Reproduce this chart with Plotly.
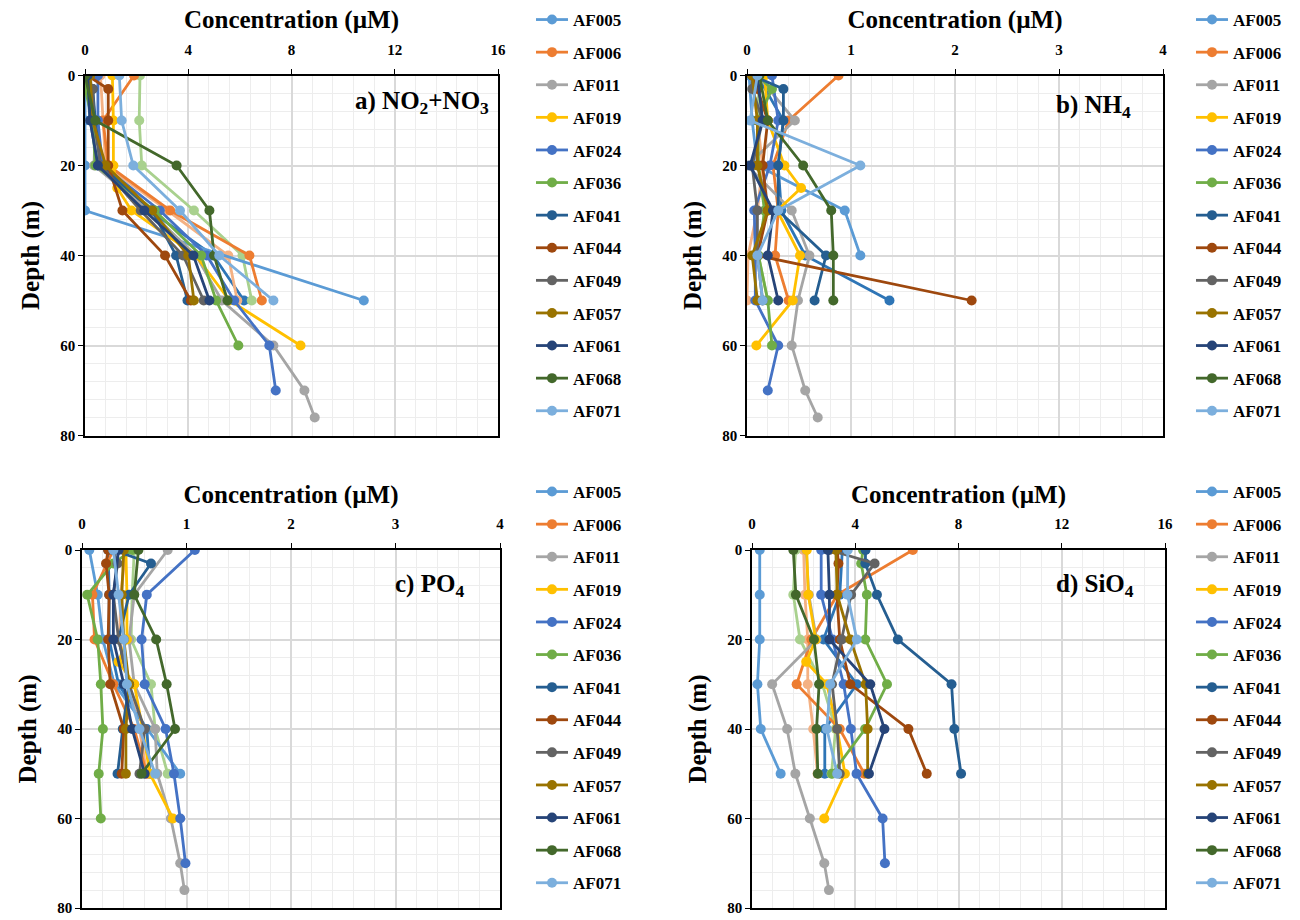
import plotly.graph_objects as go

# ---------------- data ----------------
SERIES = ["AF005", "AF006", "AF011", "AF019", "AF024", "AF036", "AF041",
          "AF044", "AF049", "AF057", "AF061", "AF068", "AF071"]
EXTRA = ["extra_1", "extra_2", "extra_3"]   # plotted, not listed in legend

COLORS = ["#5B9BD5", "#ED7D31", "#A5A5A5", "#FFC000", "#4472C4", "#70AD47", "#255E91",
          "#9E480E", "#636363", "#997300", "#264478", "#43682B", "#7CAFDD"]
EXTRA_COLORS = ["#2E75B6", "#F4B183", "#A9D18E"]

D6 = [0, 10, 20, 30, 40, 50]
D7 = [0, 3, 10, 20, 30, 40, 50]
D_AF011 = [0, 10, 20, 30, 40, 50, 60, 70, 76]
D_AF019 = [0, 10, 20, 25, 30, 40, 50, 60]
D_AF024 = [0, 10, 20, 30, 40, 50, 60, 70]
D_AF036 = [0, 3, 10, 20, 30, 40, 50, 60]

DEPTHS = [D6, D6, D_AF011, D_AF019, D_AF024, D_AF036, D7, D7, D7, D6, D6, D6, D6,
          D6, D6, D6]

NO3 = [
    [0.0, 0.0, 0.0, 0.0, None, 10.8],
    [1.9, 0.7, 0.9, 3.3, 6.37, 6.85],
    [0.2, 0.4, 0.35, 2.48, 4.3, 5.3, 7.3, 8.5, 8.9],
    [1.06, 1.1, 1.1, 1.25, 1.8, 4.29, 5.6, 8.35],
    [0.5, 0.5, 0.68, 2.9, 4.72, 5.78, 7.14, 7.39],
    [0.05, 0.0, 0.3, 0.4, 2.7, 4.5, 5.08, 5.94],
    [0.05, 0.3, 0.4, 0.6, 2.6, 3.53, 3.97],
    [0.1, 0.9, 0.9, 0.9, 1.45, 3.1, 4.1],
    [0.1, 0.3, 0.35, 0.6, 2.16, 3.8, 4.6],
    [0.2, 0.3, 0.8, 2.6, 4.0, 4.22],
    [0.1, 0.2, 0.5, 2.3, 4.2, 4.82],
    [0.0, 0.4, 3.55, 4.82, 5.0, 5.52],
    [1.33, 1.42, 1.87, 3.68, 5.2, 7.3],
    [0.05, 0.2, 0.5, 2.5, 4.97, 6.16],
    [0.6, 0.7, 0.8, 3.2, 5.55, 5.9],
    [2.13, 2.1, 2.2, 4.22, 6.1, 6.46],
]

NH4 = [
    [0.02, 0.05, 0.1, 0.94, 1.09, None],
    [0.88, 0.4, 0.25, 0.3, 0.27, 0.4],
    [0.1, 0.46, 0.0, 0.43, 0.6, 0.49, 0.43, 0.56, 0.68],
    [0.17, 0.2, 0.36, 0.52, 0.29, 0.51, 0.44, 0.09],
    [0.24, 0.3, 0.22, 0.07, 0.08, 0.08, 0.3, 0.2],
    [0.1, 0.24, 0.1, 0.11, 0.17, 0.11, 0.2, 0.24],
    [0.05, 0.35, 0.35, 0.3, 0.3, 0.76, 0.65],
    [0.05, 0.1, 0.2, 0.15, 0.2, 0.1, 2.16],
    [0.05, 0.05, 0.15, 0.05, 0.1, 0.1, 0.15],
    [0.05, 0.1, 0.1, 0.2, 0.05, 0.1],
    [0.1, 0.15, 0.03, 0.25, 0.2, 0.3],
    [0.12, 0.2, 0.54, 0.81, 0.83, 0.83],
    [0.1, 0.03, 1.09, 0.3, 0.1, 0.15],
    [0.1, 0.35, 0.3, 0.33, 0.56, 1.37],
    [0.05, 0.1, 0.15, 0.1, 0.01, 0.0],
    [0.12, 0.1, 0.11, 0.17, 0.11, 0.2],
]

PO4 = [
    [0.07, 0.15, 0.2, 0.31, None, 0.94],
    [0.3, 0.1, 0.12, 0.3, 0.5, 0.62],
    [0.82, 0.5, 0.45, 0.5, 0.7, 0.72, 0.85, 0.94, 0.98],
    [0.42, 0.43, 0.43, 0.35, 0.5, 0.58, 0.65, 0.87],
    [1.08, 0.62, 0.57, 0.6, 0.8, 0.88, 0.94, 0.99],
    [0.48, 0.3, 0.05, 0.15, 0.18, 0.2, 0.16, 0.18],
    [0.3, 0.66, 0.45, 0.35, 0.45, 0.39, 0.34],
    [0.25, 0.23, 0.26, 0.25, 0.27, 0.4, 0.38],
    [0.3, 0.34, 0.3, 0.35, 0.45, 0.6, 0.55],
    [0.4, 0.38, 0.4, 0.45, 0.42, 0.42],
    [0.35, 0.3, 0.3, 0.4, 0.48, 0.6],
    [0.54, 0.5, 0.71, 0.81, 0.89, 0.57],
    [0.3, 0.35, 0.4, 0.43, 0.55, 0.7],
    [0.25, 0.26, 0.26, 0.35, 0.62, 0.65],
    [0.42, 0.37, 0.36, 0.45, 0.55, 0.62],
    [0.5, 0.48, 0.47, 0.66, 0.7, 0.82],
]

SIO4 = [
    [0.3, 0.3, 0.3, 0.21, 0.34, 1.11],
    [6.23, 3.3, 2.3, 1.73, 3.4, 4.35],
    [2.1, 2.2, 2.5, 0.78, 1.36, 1.68, 2.24, 2.8, 2.98],
    [2.12, 2.18, 2.47, 2.1, 2.9, 3.3, 3.6, 2.8],
    [2.68, 2.68, 3.12, 3.55, 3.83, 4.05, 5.06, 5.15],
    [4.3, 4.23, 4.45, 4.39, 5.23, 4.38, 3.1, None],
    [4.4, 4.39, 4.84, 5.65, 7.73, 7.84, 8.1],
    [3.3, 3.35, 3.29, 3.4, 3.81, 6.06, 6.77],
    [3.0, 4.75, 3.84, 3.48, 3.1, 3.3, 3.4],
    [3.25, 3.3, 3.81, 4.4, 4.48, 4.48],
    [2.94, 3.0, 3.0, 4.58, 5.13, 4.53],
    [1.6, 1.7, 2.4, 2.6, 2.5, 2.55],
    [3.71, 3.7, 4.06, 3.03, 2.9, 3.3],
    [3.5, 3.4, 2.77, 4.06, 2.82, 2.82],
    [2.0, 2.05, 2.16, 2.16, 2.37, 2.54],
    [1.69, 1.6, 1.86, 2.73, 3.24, 3.08],
]

PANEL_LABELS = ["a) NO<sub>2</sub>+NO<sub>3</sub>", "b) NH<sub>4</sub>",
                "c) PO<sub>4</sub>", "d) SiO<sub>4</sub>"]
X_MAX = [16, 4, 4, 16]
X_DTICK = [4, 1, 1, 4]
X_TITLE = "Concentration (µM)"
Y_TITLE = "Depth (m)"

# ---------------- figure ----------------
W, H = 1300, 920
SERIF = "Liberation Serif, Times New Roman, serif"

ALL_NAMES = SERIES + EXTRA
ALL_COLORS = COLORS + EXTRA_COLORS
DATASETS = [NO3, NH4, PO4, SIO4]

# plot-area boxes in pixels: (left, right, top, bottom)
BOXES = [(85, 498, 75.5, 435.5), (747, 1163, 75.5, 435.5),
         (82, 500, 550, 908), (752, 1165, 550, 908)]
LEGEND_POS = [(531, 2), (1191, 2), (531, 474), (1191, 474)]
LABEL_POS = [(491, 103), (1133, 106), (466, 585), (1136, 585)]

fig = go.Figure()
# draw the unlisted series first, then the legend series on top
order = list(range(13, 16)) + list(range(13))
for p, data in enumerate(DATASETS):
    ax = "" if p == 0 else str(p + 1)
    leg = "legend" if p == 0 else f"legend{p + 1}"
    for i in order:
        fig.add_trace(go.Scatter(
            x=data[i], y=DEPTHS[i], mode="lines+markers", name=ALL_NAMES[i],
            line=dict(color=ALL_COLORS[i], width=2.8),
            marker=dict(color=ALL_COLORS[i], size=10),
            connectgaps=True, xaxis="x" + ax, yaxis="y" + ax,
            legend=leg, legendgroup=f"{p}_{ALL_NAMES[i]}",
            legendrank=i, showlegend=i < 13,
        ))

layout = dict(width=W, height=H, margin=dict(l=0, r=0, t=0, b=0, autoexpand=False),
              paper_bgcolor="white", plot_bgcolor="white",
              font=dict(family=SERIF, color="black"))

tickfont = dict(family=SERIF, size=15, color="black", weight="bold")
titlefont = dict(family=SERIF, size=25, color="black", weight="bold")

for p in range(4):
    ax = "" if p == 0 else str(p + 1)
    l, r, t, b = BOXES[p]
    layout["xaxis" + ax] = dict(
        domain=[l / W, r / W], anchor="y" + ax, side="top", automargin=False,
        range=[0, X_MAX[p]], dtick=X_DTICK[p], tick0=0,
        showgrid=True, gridcolor="#D9D9D9", gridwidth=1.5,
        minor=dict(dtick=X_DTICK[p] / 5, showgrid=True, gridcolor="#EDEDED", gridwidth=1.3),
        showline=True, linecolor="black", linewidth=1.5, mirror=True,
        ticks="outside", ticklen=5, tickcolor="black", zeroline=False,
        ticklabelstandoff=8,
        tickfont=tickfont, title=dict(text=X_TITLE, font=titlefont, standoff=6),
    )
    layout["yaxis" + ax] = dict(
        domain=[1 - b / H, 1 - t / H], anchor="x" + ax, automargin=False,
        range=[80, 0], dtick=20, tick0=0,
        showgrid=True, gridcolor="#D9D9D9", gridwidth=1.5,
        minor=dict(dtick=4, showgrid=True, gridcolor="#EDEDED", gridwidth=1.3),
        showline=True, linecolor="black", linewidth=1.5, mirror=True,
        ticks="outside", ticklen=5, tickcolor="black", zeroline=False,
        tickfont=tickfont, title=dict(text=Y_TITLE, font=titlefont, standoff=14),
    )
    lx, ly = LEGEND_POS[p]
    layout["legend" if p == 0 else f"legend{p + 1}"] = dict(
        x=lx / W, y=1 - ly / H, xanchor="left", yanchor="top",
        font=dict(family=SERIF, size=17, color="black", weight="bold"),
        itemwidth=32, tracegroupgap=7.5, bgcolor="rgba(0,0,0,0)",
        traceorder="grouped",
    )

annotations = []
for p in range(4):
    x, y = LABEL_POS[p]
    annotations.append(dict(
        text=PANEL_LABELS[p], xref="paper", yref="paper", x=x / W, y=1 - y / H,
        xanchor="right", yanchor="middle", showarrow=False,
        font=dict(family=SERIF, size=25, color="black", weight="bold"),
    ))
layout["annotations"] = annotations

fig.update_layout(**layout)
fig.write_html("out.html", config={"displayModeBar": False},
               post_script="document.body.style.margin='0';document.body.style.padding='0';")
